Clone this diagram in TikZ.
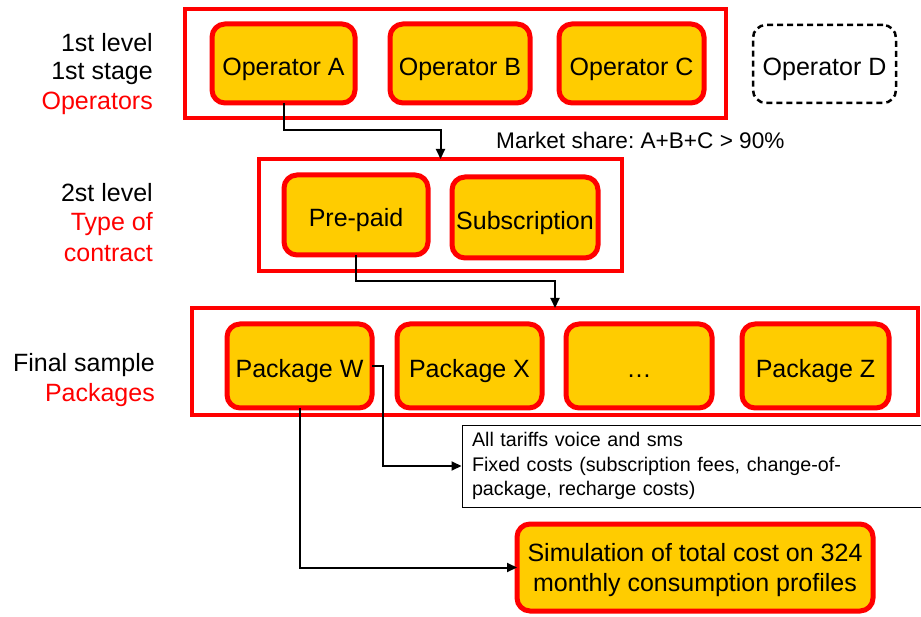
\documentclass[tikz,border=0pt]{standalone}
\usepackage{fontspec}
\setmainfont{Liberation Sans}
\usetikzlibrary{arrows.meta}
\definecolor{myred}{HTML}{FF0000}
\definecolor{myyellow}{HTML}{FFCC00}
\frenchspacing
\tikzset{
  bigtxt/.style={font=\fontsize{25}{30}\selectfont},
  frame/.style={draw=myred, line width=4pt, inner sep=0pt, outer sep=0pt},
  ybox/.style={draw=myred, fill=myyellow, line width=5pt, rounded corners=13pt, inner sep=0pt, outer sep=0pt, bigtxt, text=black, text height=23.5pt, text depth=0pt},
  dbox/.style={draw=black, line width=2.5pt, dash pattern=on 6pt off 4pt, rounded corners=13pt, inner sep=0pt, outer sep=0pt, bigtxt, text height=23pt, text depth=0pt},
  lbl/.style={anchor=east, bigtxt, inner sep=0pt},
  arr/.style={draw=black, line width=2pt, -{Triangle[length=10pt,width=9pt]}},
}
\begin{document}
\begin{tikzpicture}[x=1pt,y=-1pt]
\useasboundingbox (0,0) rectangle (921,617);
% frames
\node[frame, minimum width=541pt, minimum height=109pt] (box1) at (455.5,63.5) {};
\node[frame, minimum width=363pt, minimum height=112pt] (box2) at (440.5,215) {};
\node[frame, minimum width=726pt, minimum height=107pt] (box3) at (555,361.5) {};
% operators
\node[ybox, minimum width=143pt, minimum height=79pt] (opA) at (283.5,63.5) {Operator A};
\node[ybox, minimum width=140pt, minimum height=79pt] (opB) at (460,63.5) {Operator B};
\node[ybox, minimum width=145pt, minimum height=79pt] (opC) at (631.5,63.5) {Operator C};
\node[dbox, minimum width=143pt, minimum height=78pt] (opD) at (824.5,64) {Operator D};
% contract
\node[ybox, minimum width=144pt, minimum height=80pt] (pre) at (356,215) {Pre-paid};
\node[ybox, minimum width=146pt, minimum height=81pt] (sub) at (525,217.5) {Subscription};
% packages
\node[ybox, minimum width=145pt, minimum height=84pt] (pkgW) at (299.5,366) {Package W};
\node[ybox, minimum width=145pt, minimum height=84pt] (pkgX) at (469.5,366) {Package X};
\node[ybox, minimum width=146pt, minimum height=84pt] (pkgD) at (639,366) {\ldots};
\node[ybox, minimum width=147pt, minimum height=84pt] (pkgZ) at (815.5,366) {Package Z};
% text box
\node[draw=black, line width=1pt, minimum width=460pt, minimum height=82pt, inner xsep=10pt, inner ysep=0pt,
      text width=440pt, align=left, font=\fontsize{19.7}{24.5}\selectfont] (tbox) at (692,466)
  {All tariffs voice and sms\\Fixed costs (subscription fees, change-of-\\package, recharge costs)};
% simulation
\node[ybox, text height=, text depth=-3pt, minimum width=356pt, minimum height=87pt, align=center, font=\fontsize{25}{30}\selectfont] (sim) at (695,567.5)
  {Simulation of total cost on 324\\monthly consumption profiles};
% left labels
\node[lbl] (l1) at (153,43) {1st level};
\node[lbl] (l2) at (153,73) {1st stage};
\node[lbl, text=myred] (l3) at (153,103) {Operators};
\node[lbl] (l4) at (153,193) {2st level};
\node[lbl, text=myred] (l5) at (153,224) {Type of};
\node[lbl, text=myred] (l6) at (153,254) {contract};
\node[lbl] (l7) at (155,365) {Final sample};
\node[lbl, text=myred] (l8) at (155,395) {Packages};
% market share
\node[anchor=west, inner sep=0pt, font=\fontsize{22.6}{26}\selectfont] (ms) at (496,140) {Market share: A+B+C > 90\%};
% connectors
\draw[arr] (opA.south) -- ++(0,27) -| (box2.north);
\draw[arr] (pre.south) -- ++(0,26) -| (box3.north);
\draw[arr] (pkgW.east) -- ++(11,0) |- (tbox.west);
\draw[arr] (pkgW.south) |- (sim.west);
\end{tikzpicture}
\end{document}
